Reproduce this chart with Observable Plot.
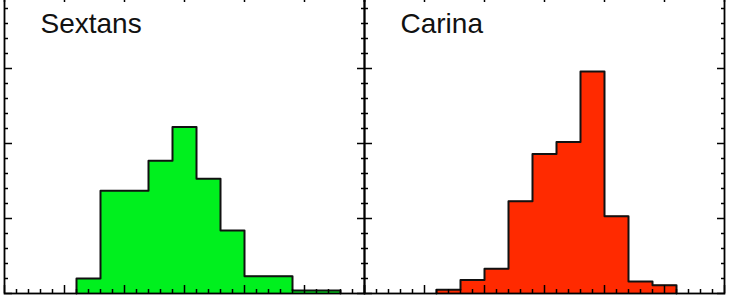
<!DOCTYPE html>
<html><head><meta charset="utf-8">
<script src="https://cdn.jsdelivr.net/npm/d3@7"></script>
<script src="https://cdn.jsdelivr.net/npm/@observablehq/plot@0.6"></script>
<style>
html,body{margin:0;padding:0;background:#fff;}
#chart{position:relative;width:733px;height:300px;overflow:hidden;background:#fff;}
#chart svg{position:absolute;top:-17px;}
</style></head><body><div id="chart"></div>
<script>
// [Fe/H] bins (left edges), bin width 0.2 dex; values = fraction of stars per bin
const binWidth = 0.2;
const sextansBinStart = [-2.9, -2.7, -2.5, -2.3, -2.1, -1.9, -1.7, -1.5, -1.3, -1.1, -0.9];
const sextansFrac     = [0.020, 0.137, 0.137, 0.177, 0.222, 0.153, 0.084, 0.023, 0.023, 0.004, 0.004];
const carinaBinStart  = [-2.9, -2.7, -2.5, -2.3, -2.1, -1.9, -1.7, -1.5, -1.3, -1.1];
const carinaFrac      = [0.005, 0.018, 0.033, 0.123, 0.186, 0.202, 0.296, 0.103, 0.016, 0.011];
const panelNames = ["Sextans", "Carina"];
const panelColors = ["#00f01e", "#ff2a00"];
// axis ticks
const xMajor = [-3.5, -3, -2.5, -2, -1.5, -1, -0.5];
const xMinor = d3.range(-35, -4, 1).map(d => d / 10).filter(d => !xMajor.some(m => Math.abs(m - d) < 1e-9));
const yMajor = [0, 0.1, 0.2, 0.3, 0.4];
const yMinor = d3.range(0, 41, 2).map(d => d / 100).filter(d => !yMajor.some(m => Math.abs(m - d) < 1e-9));

function panel(name, starts, fracs, color, opts) {
  const bins = starts.map((s, i) => ({x1: s, x2: s + binWidth, f: fracs[i]}));
  const pts = [{x: starts[0], y: 0}];
  starts.forEach((s, i) => pts.push({x: s, y: fracs[i]}));
  pts.push({x: starts[starts.length - 1] + binWidth, y: 0});
  const tickOpts = {stroke: "black", fill: "none", strokeWidth: 1.5, label: null};
  return Plot.plot({
    width: opts.width, height: 320,
    marginLeft: opts.ml, marginRight: opts.mr, marginTop: 10, marginBottom: 10,
    x: {domain: [-3.5, -0.5], axis: null},
    y: {domain: [0, 0.4], axis: null},
    style: {background: "transparent", overflow: "visible"},
    marks: [
      Plot.rectY(bins, {x1: "x1", x2: "x2", y: "f", fill: color}),
      Plot.line(pts, {x: "x", y: "y", curve: "step-after", stroke: "#111", strokeWidth: 2}),
      Plot.axisX(xMajor, {anchor: "bottom", tickSize: 8, dy: -8, ...tickOpts}),
      Plot.axisX(xMinor, {anchor: "bottom", tickSize: 4, dy: -4, ...tickOpts}),
      Plot.axisX(xMajor, {anchor: "top", tickSize: 8, dy: 8, ...tickOpts}),
      Plot.axisX(xMinor, {anchor: "top", tickSize: 4, dy: 4, ...tickOpts}),
      Plot.axisY(yMajor, {anchor: "left", tickSize: 8, dx: 8, ...tickOpts}),
      Plot.axisY(yMinor, {anchor: "left", tickSize: 4, dx: 4, ...tickOpts}),
      Plot.axisY(yMajor, {anchor: "right", tickSize: 8, dx: -8, ...tickOpts}),
      Plot.axisY(yMinor, {anchor: "right", tickSize: 4, dx: -4, ...tickOpts}),
      Plot.frame({stroke: "black", strokeWidth: 1.8}),
      Plot.text([name], {text: d => d, frameAnchor: "top-left", dx: 36, dy: 39.5, lineAnchor: "bottom", textAnchor: "start",
        fontSize: 28, fontFamily: "Liberation Sans, Arial, sans-serif", fill: "#111"})
    ]
  });
}

const chart = document.getElementById("chart");
const p1 = panel(panelNames[0], sextansBinStart, sextansFrac, panelColors[0], {width: 370, ml: 4, mr: 6});
p1.style.left = "0px";
chart.appendChild(p1);
const p2 = panel(panelNames[1], carinaBinStart, carinaFrac, panelColors[1], {width: 375, ml: 6, mr: 9});
p2.style.left = "358px";
chart.appendChild(p2);
</script></body></html>
